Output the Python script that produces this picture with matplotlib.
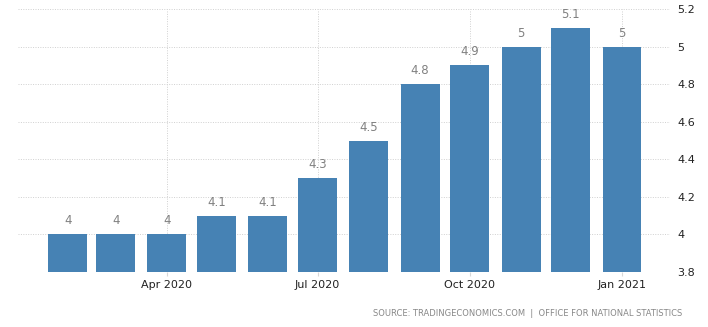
import datetime as dt
import matplotlib
matplotlib.use("Agg")
import matplotlib.pyplot as plt
import matplotlib.dates as mdates

# monthly values, Feb 2020 .. Jan 2021
months = ["2020-02", "2020-03", "2020-04", "2020-05", "2020-06", "2020-07",
          "2020-08", "2020-09", "2020-10", "2020-11", "2020-12", "2021-01"]
values = [4, 4, 4, 4.1, 4.1, 4.3, 4.5, 4.8, 4.9, 5, 5.1, 5]
value_labels = ["4", "4", "4", "4.1", "4.1", "4.3", "4.5", "4.8", "4.9", "5", "5.1", "5"]
tick_months = ["2020-04", "2020-07", "2020-10", "2021-01"]
tick_labels = ["Apr 2020", "Jul 2020", "Oct 2020", "Jan 2021"]
yticks = [3.8, 4, 4.2, 4.4, 4.6, 4.8, 5, 5.2]
source = "SOURCE: TRADINGECONOMICS.COM  |  OFFICE FOR NATIONAL STATISTICS"


def to_date(s):
    y, m = s.split("-")
    return dt.datetime(int(y), int(m), 1)


dates = [to_date(m) for m in months]
tdates = [to_date(m) for m in tick_months]

fig = plt.figure(figsize=(7.08, 3.27), dpi=100)
W, H = 708, 327
ax = fig.add_axes([18 / W, (H - 272) / H, (670 - 18) / W, (272 - 9) / H])

ax.bar(dates, [v - 3.8 for v in values], bottom=3.8, width=23.5,
       color="#4682b4", zorder=3)
for d, v, lab in zip(dates, values, value_labels):
    ax.annotate(lab, (mdates.date2num(d), v), xytext=(0, 5),
                textcoords="offset points", ha="center", va="bottom",
                fontsize=8.5, color="#808080")

ax.set_ylim(3.8, 5.2)
ax.set_xlim(dt.datetime(2020, 1, 2), dt.datetime(2021, 1, 30))
ax.set_yticks(yticks)
ax.set_yticklabels([f"{t:g}" for t in yticks])
ax.yaxis.tick_right()
ax.set_xticks([mdates.date2num(d) for d in tdates])
ax.set_xticklabels(tick_labels)

ax.tick_params(axis="y", length=0, pad=5, labelsize=8, labelcolor="#222222")
ax.tick_params(axis="x", length=3, color="#d8d8d8", pad=3, labelsize=8,
               labelcolor="#222222")
for s in ax.spines.values():
    s.set_visible(False)
ax.grid(True, color="#d0d0d0", linestyle=(0, (1, 1.5)), linewidth=0.7, zorder=0)
ax.set_axisbelow(True)

fig.text(682 / W, 1 - 314 / H, source, ha="right", va="center",
         fontsize=6, color="#888888")

fig.savefig("out.png", dpi=100)
